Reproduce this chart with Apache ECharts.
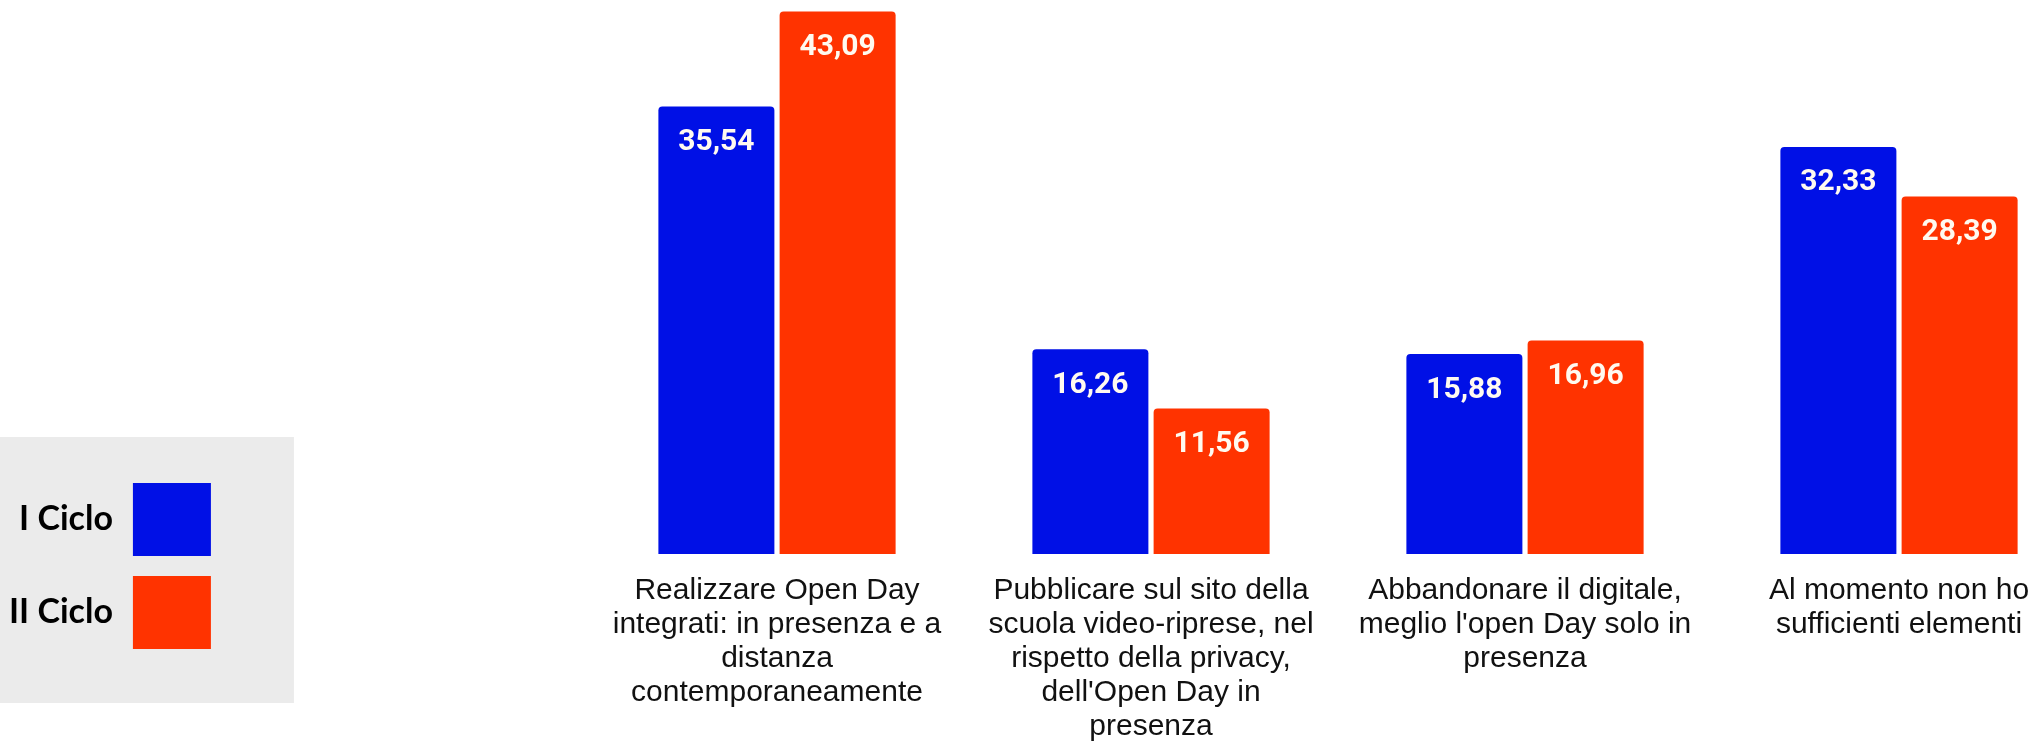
<!DOCTYPE html>
<html>
<head>
<meta charset="utf-8">
<script src="https://cdn.jsdelivr.net/npm/echarts@6/dist/echarts.min.js"></script>
<style>
  html, body { margin: 0; padding: 0; background: #ffffff; }
  #chart { width: 2038px; height: 750px; }
</style>
</head>
<body>
<div id="chart"></div>
<script>
const categories = [
  "Realizzare Open Day\nintegrati: in presenza e a\ndistanza\ncontemporaneamente",
  "Pubblicare sul sito della\nscuola video-riprese, nel\nrispetto della privacy,\ndell'Open Day in\npresenza",
  "Abbandonare il digitale,\nmeglio l'open Day solo in\npresenza",
  "Al momento non ho\nsufficienti elementi"
];
const seriesNames = ["I Ciclo", "II Ciclo"];
const cicloI = [35.54, 16.26, 15.88, 32.33];
const cicloII = [43.09, 11.56, 16.96, 28.39];

const colors = ["#0010e6", "#ff3300"];

const chart = echarts.init(document.getElementById('chart'));

const barLabel = {
  show: true,
  position: 'insideTop',
  distance: 21,
  color: '#fffaf0',
  fontFamily: 'Roboto',
  fontWeight: 'bold',
  fontSize: 30,
  formatter: p => p.value.toFixed(2).replace('.', ',')
};

chart.setOption({
  animation: false,
  backgroundColor: '#ffffff',
  grid: {
    left: 590, width: 1496, top: 0, bottom: 196,
    containLabel: false,
    outerBoundsMode: 'none'
  },
  legend: {
    orient: 'vertical',
    left: 0,
    top: 437,
    align: 'right',
    backgroundColor: '#ebebeb',
    padding: [46, 83, 54, 9],
    itemWidth: 78,
    itemHeight: 73,
    itemGap: 20,
    icon: 'rect',
    selectedMode: false,
    textStyle: {
      fontFamily: 'Lato',
      fontWeight: 'bold',
      fontSize: 34,
      color: '#000000',
      width: 100,
      align: 'right',
      padding: [0, 15, 0, 0]
    },
    data: seriesNames
  },
  xAxis: {
    type: 'category',
    data: categories,
    axisLine: { show: false },
    axisTick: { show: false },
    axisLabel: {
      interval: 0,
      margin: 20,
      color: '#111111',
      fontFamily: 'Liberation Sans',
      fontSize: 30,
      lineHeight: 34
    }
  },
  yAxis: {
    type: 'value',
    min: 0,
    max: 44,
    show: false,
    splitLine: { show: false }
  },
  series: [
    {
      name: seriesNames[0],
      type: 'bar',
      data: cicloI,
      barWidth: 116,
      barGap: '4.5%',
      itemStyle: { color: colors[0], borderRadius: [4, 4, 0, 0] },
      label: barLabel
    },
    {
      name: seriesNames[1],
      type: 'bar',
      data: cicloII,
      barWidth: 116,
      itemStyle: { color: colors[1], borderRadius: [4, 4, 0, 0] },
      label: barLabel
    }
  ]
});
</script>
</body>
</html>
